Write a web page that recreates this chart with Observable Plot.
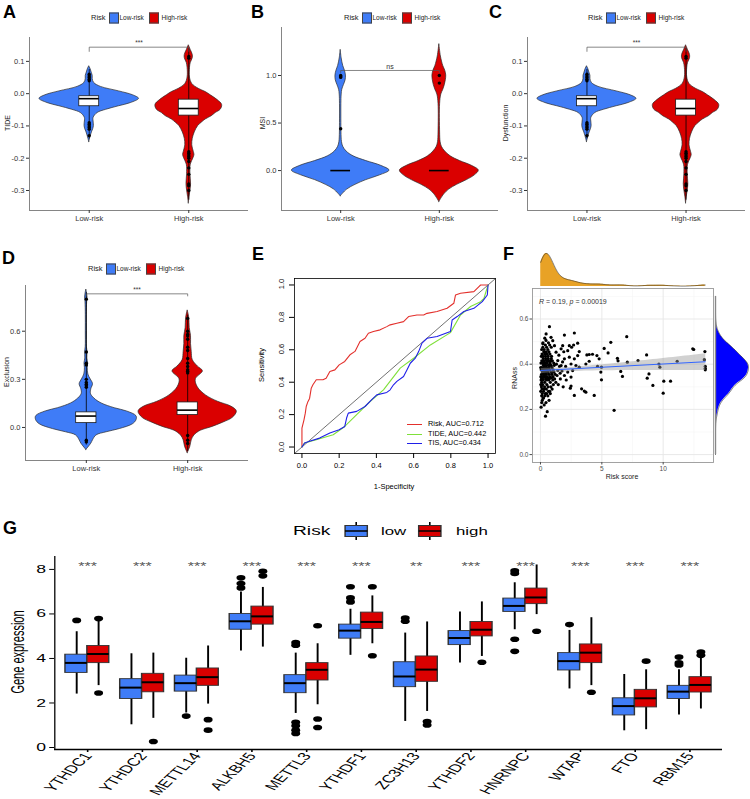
<!DOCTYPE html>
<html><head><meta charset="utf-8">
<script src="https://cdn.jsdelivr.net/npm/d3@7"></script>
<script src="https://cdn.jsdelivr.net/npm/@observablehq/plot@0.6"></script>
<style>
body{margin:0;background:#fff;}
#fig{position:relative;width:750px;height:799px;overflow:hidden;background:#fff;}
</style></head><body><div id="fig"></div>
<script>
// ---------------- DATA ----------------
const groups = ["Low-risk", "High-risk"];

// A / C : TIDE (and Dysfunction) violin profiles [value, half-width]
const tideLowProfile = [[0.085,0],[0.075,0.015],[0.065,0.025],[0.055,0.035],[0.045,0.035],[0.033,0.05],[0.021,0.117],[0.007,0.30],[-0.005,0.44],[-0.016,0.5],[-0.029,0.42],[-0.039,0.3],[-0.05,0.17],[-0.06,0.084],[-0.075,0.044],[-0.09,0.045],[-0.1,0.047],[-0.11,0.04],[-0.12,0.027],[-0.13,0.017],[-0.14,0.008],[-0.15,0]];
const tideHighProfile = [[0.15,0],[0.135,0.02],[0.12,0.04],[0.11,0.04],[0.095,0.02],[0.08,0.012],[0.05,0.012],[0.03,0.035],[0.015,0.1],[0.005,0.17],[-0.005,0.22],[-0.02,0.29],[-0.035,0.335],[-0.05,0.32],[-0.06,0.27],[-0.07,0.23],[-0.08,0.17],[-0.09,0.13],[-0.1,0.095],[-0.12,0.06],[-0.14,0.04],[-0.16,0.035],[-0.18,0.05],[-0.19,0.057],[-0.2,0.047],[-0.22,0.02],[-0.25,0.017],[-0.28,0.023],[-0.3,0.017],[-0.32,0.007],[-0.34,0]];
// box stats [low whisker, Q1, median, Q3, high whisker]
const tideLowBox = [-0.14, -0.039, -0.0155, -0.008, 0.075];
const tideHighBox = [-0.33, -0.068, -0.046, -0.0186, 0.14];
const tideLowOut = [0.06,0.055,0.05,0.045,0.04,-0.09,-0.095,-0.1,-0.105,-0.11,-0.13];
const tideHighOut = [0.115,0.11,-0.18,-0.185,-0.19,-0.195,-0.2,-0.21,-0.23,-0.25,-0.28,-0.285,-0.3];
const tideBracket = [0.144, 0.131];
const tideTicks = [-0.3,-0.2,-0.1,0,0.1];

// B : MSI
const msiLowProfile = [[-0.27,0],[-0.2,0.066],[-0.15,0.15],[-0.1,0.26],[-0.05,0.4],[0,0.495],[0.05,0.41],[0.1,0.26],[0.15,0.13],[0.2,0.06],[0.25,0.026],[0.3,0.013],[0.4,0.008],[0.5,0.007],[0.7,0.007],[0.8,0.01],[0.85,0.016],[0.9,0.033],[0.95,0.05],[1.0,0.053],[1.05,0.043],[1.1,0.026],[1.18,0.01],[1.27,0]];
const msiHighProfile = [[-0.33,0],[-0.25,0.05],[-0.2,0.1],[-0.15,0.18],[-0.1,0.28],[-0.05,0.36],[0,0.4],[0.05,0.33],[0.1,0.21],[0.15,0.115],[0.2,0.06],[0.25,0.026],[0.3,0.013],[0.4,0.008],[0.7,0.008],[0.8,0.02],[0.85,0.04],[0.9,0.056],[0.95,0.066],[1.0,0.07],[1.05,0.06],[1.1,0.04],[1.2,0.016],[1.33,0]];
const msiLowBox = [0,0,0,0,0];
const msiHighBox = [0,0,0,0,0];
const msiLowOut = [1.0,0.99,0.98,0.44];
const msiHighOut = [1.0,0.92];
const msiBracket = [1.053, 1.03];
const msiTicks = [0,0.5,1];

// D : Exclusion
const excLowProfile = [[-0.14,0],[-0.1,0.05],[-0.08,0.066],[-0.05,0.1],[-0.03,0.2],[-0.01,0.33],[0.02,0.46],[0.045,0.495],[0.07,0.495],[0.1,0.4],[0.12,0.28],[0.15,0.15],[0.18,0.08],[0.21,0.045],[0.24,0.05],[0.27,0.066],[0.3,0.043],[0.33,0.02],[0.37,0.014],[0.4,0.018],[0.43,0.01],[0.47,0.012],[0.5,0.006],[0.6,0.005],[0.7,0.005],[0.78,0.008],[0.81,0.012],[0.84,0.006],[0.86,0]];
const excHighProfile = [[-0.16,0],[-0.12,0.026],[-0.08,0.04],[-0.05,0.066],[-0.02,0.13],[0,0.23],[0.03,0.35],[0.06,0.445],[0.1,0.485],[0.13,0.43],[0.16,0.3],[0.2,0.18],[0.25,0.1],[0.3,0.08],[0.35,0.15],[0.38,0.1],[0.42,0.05],[0.47,0.04],[0.52,0.033],[0.57,0.033],[0.62,0.02],[0.68,0.016],[0.73,0]];
const excLowBox = [-0.11, 0.027, 0.071, 0.094, 0.84];
const excHighBox = [-0.15, 0.077, 0.108, 0.156, 0.7];
const excLowOut = [0.8,0.47,0.4,0.39,0.3,0.28,0.27,0.26,0.25,-0.08,-0.09];
const excHighOut = [0.68,0.6,0.58,0.57,0.55,0.5,0.48,0.43,0.4,0.38,0.36,0.35,0.34,-0.05,-0.08,-0.1];
const excBracket = [0.833, 0.82];
const excTicks = [0,0.3,0.6];

// E : ROC curves [1-specificity, sensitivity]
const rocRisk = [[0,0],[0,0.117],[0.011,0.168],[0.018,0.209],[0.023,0.25],[0.032,0.28],[0.041,0.3],[0.05,0.363],[0.059,0.384],[0.077,0.415],[0.113,0.415],[0.13,0.425],[0.15,0.466],[0.177,0.476],[0.2,0.507],[0.23,0.528],[0.258,0.569],[0.285,0.59],[0.312,0.651],[0.339,0.671],[0.357,0.702],[0.384,0.713],[0.42,0.723],[0.456,0.743],[0.474,0.754],[0.51,0.764],[0.546,0.774],[0.573,0.805],[0.618,0.815],[0.654,0.815],[0.672,0.825],[0.726,0.836],[0.78,0.856],[0.816,0.887],[0.825,0.938],[0.852,0.949],[0.924,0.959],[0.951,0.99],[0.96,1],[1,1]];
const rocTide = [[0,0],[0.014,0.025],[0.077,0.045],[0.168,0.076],[0.23,0.127],[0.294,0.2],[0.366,0.281],[0.438,0.353],[0.528,0.487],[0.6,0.548],[0.69,0.63],[0.798,0.706],[0.852,0.815],[0.906,0.867],[0.96,0.897],[0.978,0.918],[1,1]];
const rocTis = [[0,0],[0.014,0.025],[0.041,0.035],[0.095,0.055],[0.15,0.086],[0.2,0.107],[0.23,0.127],[0.24,0.179],[0.249,0.209],[0.294,0.22],[0.339,0.25],[0.375,0.292],[0.402,0.322],[0.456,0.337],[0.474,0.353],[0.492,0.384],[0.51,0.405],[0.546,0.435],[0.564,0.476],[0.582,0.517],[0.609,0.548],[0.627,0.589],[0.645,0.641],[0.672,0.671],[0.726,0.682],[0.798,0.713],[0.807,0.784],[0.834,0.805],[0.87,0.836],[0.924,0.856],[0.969,0.897],[0.996,0.938],[1,1]];
const rocLabels = ["Risk, AUC=0.712", "TIDE, AUC=0.442", "TIS, AUC=0.434"];
const rocTicks = [0,0.2,0.4,0.6,0.8,1];

// F : Risk score vs RNAss  [risk score, RNAss]
const fPoints = [
[0.05,0.21],[0.1,0.23],[0.2,0.25],[0.15,0.27],[0.3,0.22],[0.41,0.17],[0.55,0.19],[0.45,0.23],[0.6,0.26],[0.7,0.24],
[0.02,0.28],[0.08,0.3],[0.12,0.29],[0.18,0.31],[0.25,0.28],[0.33,0.3],[0.4,0.27],[0.48,0.29],[0.52,0.31],[0.62,0.3],
[0.75,0.28],[0.85,0.3],[0.95,0.29],[1.05,0.31],[0.05,0.33],[0.1,0.32],[0.16,0.34],[0.22,0.33],[0.28,0.345],[0.35,0.32],
[0.42,0.335],[0.5,0.33],[0.58,0.34],[0.66,0.33],[0.72,0.335],[0.8,0.32],[0.9,0.34],[1.0,0.33],[1.15,0.335],[1.25,0.32],
[0.03,0.345],[0.09,0.355],[0.14,0.345],[0.2,0.365],[0.26,0.355],[0.32,0.345],[0.38,0.365],[0.45,0.355],[0.53,0.345],[0.6,0.365],
[0.68,0.355],[0.76,0.345],[0.84,0.365],[0.92,0.355],[1.02,0.345],[1.1,0.365],[1.2,0.355],[0.06,0.375],[0.12,0.385],[0.18,0.375],
[0.24,0.395],[0.3,0.385],[0.37,0.375],[0.44,0.395],[0.5,0.385],[0.57,0.375],[0.64,0.395],[0.7,0.385],[0.78,0.375],[0.86,0.395],
[0.94,0.385],[1.04,0.375],[1.12,0.395],[0.04,0.405],[0.11,0.415],[0.17,0.405],[0.23,0.425],[0.29,0.415],[0.36,0.405],[0.43,0.425],
[0.49,0.415],[0.56,0.405],[0.63,0.425],[0.71,0.415],[0.79,0.405],[0.88,0.425],[0.97,0.415],[1.08,0.405],[0.07,0.435],[0.13,0.445],
[0.2,0.435],[0.27,0.455],[0.34,0.445],[0.41,0.435],[0.47,0.455],[0.55,0.445],[0.62,0.435],[0.69,0.455],[0.77,0.445],[0.9,0.435],
[0.1,0.465],[0.19,0.475],[0.3,0.465],[0.4,0.485],[0.5,0.475],[0.6,0.465],[0.75,0.485],[0.88,0.475],[0.2,0.495],[0.45,0.505],
[0.65,0.495],[0.35,0.515],[0.02,0.385],[0.15,0.335],[0.26,0.375],[0.46,0.335],[0.74,0.395],[0.98,0.365],[0.33,0.395],[0.58,0.415],
[0.08,0.335],[0.16,0.365],[0.39,0.345],[0.54,0.365],[0.67,0.335],[0.83,0.415],[0.21,0.405],[0.31,0.365],[0.47,0.385],[0.03,0.31],
[0.25,0.25],[0.35,0.26],[0.5,0.27],[0.15,0.24],[0.65,0.28],[0.8,0.27],[0.3,0.29],[0.1,0.26],
[2.76,0.538],[1.95,0.529],[0.73,0.566],[5.73,0.497],[7.03,0.522],[5.19,0.47],[5.51,0.45],[4.6,0.438],[4.24,0.444],[3.97,0.443],
[3.78,0.441],[6.27,0.426],[6.32,0.415],[8.65,0.441],[7.95,0.416],[7.08,0.409],[11.14,0.413],[12.41,0.468],[12.49,0.465],[13.4,0.456],
[13.35,0.42],[13.43,0.391],[13.43,0.382],[13.43,0.375],[9.65,0.401],[9.73,0.387],[8.84,0.357],[8.7,0.338],[9.16,0.306],[10.05,0.325],
[10.6,0.325],[10.0,0.272],[6.54,0.368],[6.68,0.346],[4.97,0.387],[4.92,0.365],[4.97,0.331],[4.65,0.39],[4.38,0.262],[3.7,0.276],
[3.57,0.281],[3.35,0.291],[6.0,0.196],[2.76,0.262],[2.49,0.303],[2.43,0.294],[3.97,0.413],[3.7,0.401],[4.78,0.424],[3.16,0.456],
[3.03,0.493],[2.7,0.485],[2.54,0.475],[2.35,0.482],[2.22,0.46],[1.81,0.482],[1.68,0.468],[3.03,0.438],[2.76,0.424],[2.35,0.431],
[1.95,0.424],[2.49,0.401],[2.89,0.394],[3.16,0.387],[2.62,0.372],[2.22,0.365],[2.49,0.343],[1.95,0.35],[1.62,0.335],[1.41,0.372],
[1.68,0.394],[1.41,0.416],[1.27,0.453],[1.14,0.482],[1.0,0.504],[0.86,0.519],[0.46,0.534],[0.19,0.49],
[1.5,0.44],[1.55,0.39],[1.35,0.35],[1.8,0.41],[1.45,0.31],[1.75,0.37],[2.05,0.39],[1.9,0.455],[1.3,0.4],[1.6,0.36],[2.1,0.33],[1.85,0.3]
];
const fYLimits = [0, 0.7];
const fTicksX = [0,5,10];
const fMinorX = [2.5,7.5,12.5];
const fTicksY = [0,0.2,0.4,0.6];
const fMinorY = [0.1,0.3,0.5,0.7];

// G : m6A regulator expression, box stats per gene
const genes = ["YTHDC1","YTHDC2","METTL14","ALKBH5","METTL3","YTHDF1","ZC3H13","YTHDF2","HNRNPC","WTAP","FTO","RBM15"];
const lowLo  = [2.4,1.02,1.55,4.33,1.53,4.14,1.17,3.8,5.29,2.63,0.75,1.46];
const lowQ1  = [3.35,2.18,2.51,5.29,2.44,4.89,2.71,4.6,6.09,3.46,1.44,2.18];
const lowMed = [3.8,2.69,2.89,5.67,2.89,5.25,3.19,4.92,6.36,3.88,1.86,2.51];
const lowQ3  = [4.17,3.07,3.23,6.0,3.25,5.52,3.83,5.23,6.69,4.24,2.21,2.77];
const lowHi  = [5.2,4.21,4.01,6.99,4.24,6.21,5.14,6.09,7.4,5.26,3.28,3.49];
const lowOut = [[5.71],[],[1.41],[7.17,7.37,7.62],[4.59,4.71,1.13,0.98,0.78,0.63],[6.54,6.72,7.22],[5.67,5.82],[],[7.82,7.94,4.86,4.32],[5.52],[],[3.71,3.8,4.06]];
const highLo  = [2.78,1.31,1.95,4.51,1.92,4.66,1.62,4.09,5.97,2.78,0.8,1.73];
const highQ1  = [3.79,2.48,2.77,5.52,3.01,5.32,2.95,4.99,6.44,3.79,1.8,2.47];
const highMed = [4.2,2.93,3.16,5.89,3.49,5.64,3.5,5.29,6.74,4.26,2.21,2.81];
const highQ3  = [4.56,3.31,3.55,6.33,3.79,6.06,4.09,5.64,7.14,4.63,2.59,3.16];
const highHi  = [5.68,4.24,4.56,7.19,4.66,6.81,5.64,6.54,8.2,5.83,3.49,4.01];
const highOut = [[5.79,2.45],[0.27],[1.25,0.78],[7.71,7.92],[5.47,1.28,0.9],[7.22,4.12],[1.17,1.01],[3.83],[5.22],[2.48],[3.88],[4.14,4.29]];
const geneSig = ["***","***","***","***","***","***","**","***","***","***","***","***"];
const gTicksY = [0,2,4,6,8];

// ---------------- HELPERS ----------------
const fig = document.getElementById("fig");
const FONT = '"Liberation Sans", Arial, Helvetica, sans-serif';
const BLUE = "#3F7CF7", RED = "#DA0000";
function put(el, left, top) { el.style.position = "absolute"; el.style.left = left + "px"; el.style.top = top + "px"; fig.appendChild(el); return el; }
function ctext(html, cx, cy, size, css = {}, extra = "") {
  const d = document.createElement("div"); d.innerHTML = html;
  Object.assign(d.style, {fontFamily: FONT, fontSize: size + "px", whiteSpace: "nowrap", lineHeight: "1", color: "#222",
    transform: `translate(-50%,-50%) ${extra}`}, css);
  return put(d, cx, cy);
}
function ltext(html, x, cy, size, css = {}) {
  const d = document.createElement("div"); d.innerHTML = html;
  Object.assign(d.style, {fontFamily: FONT, fontSize: size + "px", whiteSpace: "nowrap", lineHeight: "1", color: "#222",
    transform: "translateY(-50%)"}, css);
  return put(d, x, cy);
}
function panelLabel(t, x, y) {
  const d = document.createElement("div"); d.textContent = t;
  Object.assign(d.style, {fontFamily: FONT, fontSize: "18px", fontWeight: "bold", lineHeight: "18px", color: "#000"});
  put(d, x, y);
}
function swatch(x, cy, color) {
  const d = document.createElement("div");
  Object.assign(d.style, {width: "8px", height: "9px", background: color, border: "0.8px solid #444", transform: "translateY(-50%)"});
  put(d, x, cy);
}
function riskLegend(x0, cy) {
  ltext("Risk", x0, cy, 7.5);
  swatch(x0 + 17.5, cy, BLUE);
  ltext("Low-risk", x0 + 28.5, cy, 6.5);
  swatch(x0 + 57.5, cy, RED);
  ltext("High-risk", x0 + 70.5, cy, 6.5);
}

function violinPanel(cfg) {
  const {left, top, ml, mr, mt, mb, yDomain, yTicks, profiles, boxes, outs, bracket, sig} = cfg;
  const xDom = [0.4, 2.6];
  const rows = (prof, c) => prof.map(([v, w]) => ({v, x1: c - w, x2: c + w})).sort((a, b) => a.v - b.v);
  const marks = [];
  profiles.forEach((p, k) => marks.push(Plot.areaX(rows(p, k + 1), {y: "v", x1: "x1", x2: "x2", fill: k ? RED : BLUE, stroke: "#2a2a2a", strokeWidth: 0.7, curve: "catmull-rom"})));
  boxes.forEach((b, k) => {
    const c = k + 1, hw = 0.1;
    marks.push(Plot.ruleX([b], {x: c, y1: b[0], y2: b[4], stroke: "#000", strokeWidth: 0.8}));
    if (b[3] > b[1]) marks.push(Plot.rect([b], {x1: c - hw, x2: c + hw, y1: b[1], y2: b[3], fill: "#fff", stroke: "#1a1a1a", strokeWidth: 0.8}));
    marks.push(Plot.ruleY([b[2]], {x1: c - hw, x2: c + hw, stroke: "#000", strokeWidth: 1.6}));
    marks.push(Plot.dot(outs[k], {x: c, y: d => d, r: 1.7, fill: "#000"}));
  });
  marks.push(Plot.line([[1, bracket[1]], [1, bracket[0]], [2, bracket[0]], [2, bracket[1]]], {stroke: "#555", strokeWidth: 0.7}));
  marks.push(Plot.text([sig], {x: 1.5, y: bracket[0], dy: -4, fontSize: sig === "ns" ? 7 : 6.5, fill: "#333"}));
  marks.push(Plot.ruleX([xDom[0]], {stroke: "#777", strokeWidth: 0.9}));
  marks.push(Plot.ruleY([yDomain[0]], {stroke: "#777", strokeWidth: 0.9}));
  marks.push(Plot.axisX([1, 2], {tickFormat: d => groups[d - 1], tickSize: 3, tickPadding: 2, fontSize: 7.5}));
  marks.push(Plot.axisY(yTicks, {tickFormat: d => d.toFixed(1), tickSize: 3, tickPadding: 2, fontSize: 7.5, label: null}));
  const svg = Plot.plot({width: 250, height: 260, marginLeft: ml, marginRight: mr, marginTop: mt, marginBottom: mb,
    x: {domain: xDom}, y: {domain: yDomain},
    style: {fontFamily: FONT, fontSize: "7.5px", color: "#333", background: "none", overflow: "visible"}, marks});
  put(svg, left, top);
}

// ---------------- A, B, C, D ----------------
const tideDomain = [-0.362, 0.174];
violinPanel({left: 0, top: 0, ml: 29, mr: 2, mt: 37, mb: 50, yDomain: tideDomain, yTicks: tideTicks,
  profiles: [tideLowProfile, tideHighProfile], boxes: [tideLowBox, tideHighBox], outs: [tideLowOut, tideHighOut], bracket: tideBracket, sig: "***"});
violinPanel({left: 250, top: 0, ml: 31, mr: 2, mt: 27, mb: 50, yDomain: [-0.42, 1.505], yTicks: msiTicks,
  profiles: [msiLowProfile, msiHighProfile], boxes: [msiLowBox, msiHighBox], outs: [msiLowOut, msiHighOut], bracket: msiBracket, sig: "ns"});
violinPanel({left: 500, top: 0, ml: 27, mr: 5, mt: 37, mb: 50, yDomain: tideDomain, yTicks: tideTicks,
  profiles: [tideLowProfile, tideHighProfile], boxes: [tideLowBox, tideHighBox], outs: [tideLowOut, tideHighOut], bracket: tideBracket, sig: "***"});
violinPanel({left: 0, top: 260, ml: 25, mr: 2, mt: 25, mb: 60, yDomain: [-0.206, 0.885], yTicks: excTicks,
  profiles: [excLowProfile, excHighProfile], boxes: [excLowBox, excHighBox], outs: [excLowOut, excHighOut], bracket: excBracket, sig: "***"});

riskLegend(91, 18); riskLegend(344, 18); riskLegend(588, 18); riskLegend(88, 269);
ctext("TIDE", 7, 123, 7, {}, "rotate(-90deg)");
ctext("MSI", 262, 123, 7, {}, "rotate(-90deg)");
ctext("Dysfunction", 505, 123, 7, {}, "rotate(-90deg)");
ctext("Exclusion", 6, 372, 7, {}, "rotate(-90deg)");

// ---------------- E ----------------
{
  const dom = [-0.04, 1.04];
  const series = [[rocRisk, "#E3302C"], [rocTide, "#7FE03A"], [rocTis, "#1F1FE8"]];
  const marks = [Plot.line(dom.map(v => [v, v]), {stroke: "#333", strokeWidth: 0.7})];
  series.forEach(([d, c]) => marks.push(Plot.line(d, {x: d => d[0], y: d => d[1], stroke: c, strokeWidth: 1.1})));
  marks.push(Plot.frame({stroke: "#000", strokeWidth: 0.8}));
  marks.push(Plot.axisX(rocTicks, {tickFormat: d => d.toFixed(1), tickSize: 5, tickPadding: 4, fontSize: 7.5}));
  marks.push(Plot.axisY(rocTicks, {tickFormat: () => "", tickSize: 5, label: null}));
  const svg = Plot.plot({width: 250, height: 260, marginLeft: 44, marginRight: 5, marginTop: 18, marginBottom: 67,
    x: {domain: dom}, y: {domain: dom}, style: {fontFamily: FONT, fontSize: "7.5px", color: "#000", background: "none", overflow: "visible"}, marks});
  put(svg, 250, 260);
  const ySc = svg.scale("y");
  rocTicks.forEach(t => ctext(t.toFixed(1), 282, 260 + ySc.apply(t), 7.5, {color: "#000"}, "rotate(-90deg)"));
  ctext("Sensitivity", 262, 365, 7.5, {color: "#000"}, "rotate(-90deg)");
  ctext("1-Specificity", 394, 487, 7.5, {color: "#000"});
  rocLabels.forEach((t, i) => {
    const y = 424 + i * 9.7;
    const ln = document.createElement("div");
    Object.assign(ln.style, {width: "15px", height: "0", borderTop: `1.2px solid ${series[i][1]}`});
    put(ln, 407, y);
    ltext(t, 428, y, 7.3, {color: "#000"});
  });
}

// ---------------- F ----------------
function nrd0(v) {
  const s = v.slice().sort(d3.ascending);
  const sd = d3.deviation(s), iqr = d3.quantile(s, 0.75) - d3.quantile(s, 0.25);
  return 0.9 * Math.min(sd, iqr / 1.34 || sd) * Math.pow(v.length, -0.2);
}
function kde(v, bw, lo, hi, n = 220) {
  return d3.range(n).map(i => {
    const t = lo + (hi - lo) * i / (n - 1);
    let s = 0; for (const x of v) { const z = (t - x) / bw; s += Math.exp(-0.5 * z * z); }
    return {t, d: s / (v.length * bw * Math.sqrt(2 * Math.PI))};
  });
}
{
  const xs = fPoints.map(d => d[0]), ys = fPoints.map(d => d[1]);
  const xe = d3.extent(xs), xpad = (xe[1] - xe[0]) * 0.05;
  const xDom = [xe[0] - xpad, xe[1] + xpad];
  const ypad = (fYLimits[1] - fYLimits[0]) * 0.05;
  const yDom = [fYLimits[0] - ypad, fYLimits[1] + ypad];
  const main = Plot.plot({width: 250, height: 260, marginLeft: 32, marginRight: 37, marginTop: 28, marginBottom: 58,
    x: {domain: xDom}, y: {domain: yDom},
    style: {fontFamily: FONT, fontSize: "6.5px", color: "#4d4d4d", background: "none", overflow: "visible"},
    marks: [
      Plot.ruleX(fMinorX, {stroke: "#F3F3F3", strokeWidth: 0.5}),
      Plot.ruleY(fMinorY, {stroke: "#F3F3F3", strokeWidth: 0.5}),
      Plot.ruleX(fTicksX, {stroke: "#E6E6E6", strokeWidth: 0.9}),
      Plot.ruleY(fTicksY, {stroke: "#E6E6E6", strokeWidth: 0.9}),
      Plot.dot(fPoints, {x: d => d[0], y: d => d[1], r: 1.6, fill: "#000"}),
      Plot.linearRegressionY(fPoints, {x: d => d[0], y: d => d[1], stroke: "#3366FF", strokeWidth: 1.1, fill: "#999", fillOpacity: 0.45, ci: 0.95}),
      Plot.frame({stroke: "#999", strokeWidth: 0.9}),
      Plot.axisX(fTicksX, {tickSize: 2.5, tickPadding: 1.5, fontSize: 6.5}),
      Plot.axisY(fTicksY, {tickFormat: d => d.toFixed(1), tickSize: 2.5, tickPadding: 1.5, fontSize: 6.5, label: null})
    ]});
  put(main, 500, 260);

  const topD = kde(xs, nrd0(xs), xe[0], xe[1]);
  const top = Plot.plot({width: 250, height: 34, marginLeft: 32, marginRight: 37, marginTop: 1, marginBottom: 0,
    x: {domain: xDom, axis: null}, y: {domain: [0, d3.max(topD, d => d.d)], axis: null},
    style: {background: "none", overflow: "visible"},
    marks: [Plot.areaY(topD, {x: "t", y: "d", fill: "#E8A226"}), Plot.lineY(topD, {x: "t", y: "d", stroke: "#333", strokeWidth: 0.6})]});
  put(top, 500, 252);

  const rightD = kde(ys, nrd0(ys), fYLimits[0], fYLimits[1]);
  const right = Plot.plot({width: 37, height: 260, marginLeft: 2, marginRight: 2, marginTop: 28, marginBottom: 58,
    y: {domain: yDom, axis: null}, x: {domain: [0, d3.max(rightD, d => d.d)], axis: null},
    style: {background: "none", overflow: "visible"},
    marks: [Plot.areaX(rightD, {y: "t", x: "d", fill: "#0000FF"}), Plot.lineX(rightD, {y: "t", x: "d", stroke: "#222", strokeWidth: 0.6}),
      Plot.ruleX([0], {y1: fYLimits[0], y2: fYLimits[1], stroke: "#888", strokeWidth: 1.4})]});
  put(right, 713, 260);

  ctext("RNAss", 514, 378, 7, {color: "#222"}, "rotate(-90deg)");
  ctext("Risk score", 622, 476, 7, {color: "#222"});
  ltext("<i>R</i> = 0.19, <i>p</i> = 0.00019", 539, 301, 7, {color: "#333"});
}

// ---------------- G ----------------
{
  const s = 1.6;
  const rows = genes.flatMap((g, i) => [
    {c: i + 1 - 0.2, lo: lowLo[i], q1: lowQ1[i], med: lowMed[i], q3: lowQ3[i], hi: lowHi[i], out: lowOut[i], fill: BLUE},
    {c: i + 1 + 0.2, lo: highLo[i], q1: highQ1[i], med: highMed[i], q3: highQ3[i], hi: highHi[i], out: highOut[i], fill: RED}
  ]);
  const outs = rows.flatMap(r => r.out.map(v => ({c: r.c, v})));
  const yDom = [-0.09, 8.58], xDom = [0.4, 12.6];
  const gH = 279, gMB = 50;
  const svg = Plot.plot({width: 750 / s, height: gH, marginLeft: 54 / s, marginRight: 28 / s, marginTop: 36, marginBottom: gMB,
    x: {domain: xDom}, y: {domain: yDom},
    style: {fontFamily: FONT, fontSize: "11px", color: "#000", background: "none", overflow: "visible"},
    marks: [
      Plot.ruleX(rows, {x: "c", y1: "lo", y2: "hi", stroke: "#000", strokeWidth: 1.2}),
      Plot.rect(rows, {x1: d => d.c - 0.2, x2: d => d.c + 0.2, y1: "q1", y2: "q3", fill: "fill", stroke: "#333", strokeWidth: 0.9}),
      Plot.ruleY(rows, {y: "med", x1: d => d.c - 0.2, x2: d => d.c + 0.2, stroke: "#000", strokeWidth: 2}),
      Plot.dot(outs, {x: "c", y: "v", r: 2.8, fill: "#000"}),
      Plot.text(geneSig, {x: (d, i) => i + 1, frameAnchor: "top", dy: 6, text: d => d, fontSize: 10, fill: "#555"}),
      Plot.ruleX([xDom[0]], {stroke: "#000", strokeWidth: 0.8}),
      Plot.ruleY([yDom[0]], {stroke: "#000", strokeWidth: 1.3}),
      Plot.axisY(gTicksY, {tickSize: 3, tickPadding: 2.5, fontSize: 11, label: null}),
      Plot.axisX(d3.range(1, 13), {tickFormat: () => "", tickSize: 3, label: null})
    ]});
  svg.style.transformOrigin = "0 0";
  svg.style.transform = `scaleX(${s})`;
  put(svg, 0, 520);
  // rotated gene labels, positioned with the plot's x scale
  const xSc = svg.scale("x");
  genes.forEach((g, i) => {
    const d = document.createElement("div"); d.textContent = g;
    Object.assign(d.style, {fontFamily: FONT, fontSize: "11px", lineHeight: "1", whiteSpace: "nowrap", color: "#000",
      transformOrigin: "100% 50%", transform: `translate(-100%,-50%) scaleX(${s}) rotate(-56deg)`});
    put(d, xSc.apply(i + 1) * s + 1, 520 + gH - gMB + 5);
  });
  ctext("Gene expression", 18, 652, 11, {color: "#000"}, `scaleX(${s}) rotate(-90deg)`);

  // legend
  const leg = document.createElement("div");
  Object.assign(leg.style, {width: "130px", height: "18px", transformOrigin: "0 0", transform: `scaleX(${s})`});
  put(leg, 293, 522);
  const key = (color) => `<svg width="15" height="18" style="display:block"><line x1="7.5" x2="7.5" y1="0" y2="18" stroke="#000" stroke-width="1"/><rect x="0.5" y="3.5" width="14" height="11" fill="${color}" stroke="#333" stroke-width="1"/><line x1="0.5" x2="14.5" y1="9" y2="9" stroke="#000" stroke-width="1.5"/></svg>`;
  const add = (html, x, size) => { const d = document.createElement("div"); d.innerHTML = html;
    Object.assign(d.style, {position: "absolute", left: x + "px", top: "9px", transform: "translateY(-50%)", fontFamily: FONT, fontSize: size + "px", lineHeight: "1", whiteSpace: "nowrap", color: "#000"});
    leg.appendChild(d); };
  add("Risk", 0, 12);
  add(key(BLUE), (344 - 293) / s, 10);
  add("low", (381 - 293) / s, 10.5);
  add(key(RED), (418 - 293) / s, 10);
  add("high", (456 - 293) / s, 10.5);
}

// panel letters
panelLabel("A", 3, 3); panelLabel("B", 251, 3); panelLabel("C", 489, 3);
panelLabel("D", 2, 249); panelLabel("E", 252, 245); panelLabel("F", 503, 245); panelLabel("G", 3, 519);
</script></body></html>
